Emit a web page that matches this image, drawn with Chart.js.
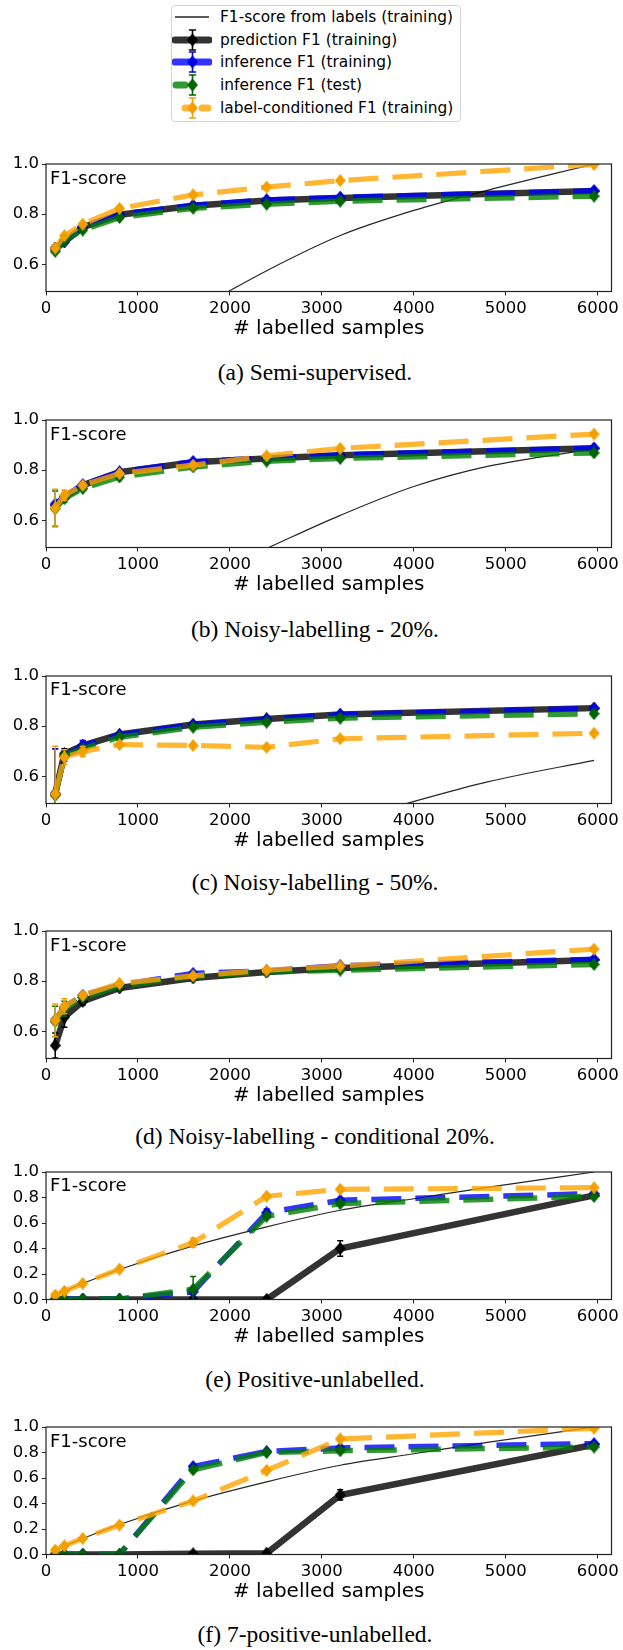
<!DOCTYPE html>
<html>
<head>
<meta charset="utf-8">
<script src="https://cdn.jsdelivr.net/npm/chart.js@4.4.0/dist/chart.umd.min.js"></script>
<style>
  body { margin:0; background:#fff; width:623px; height:1650px; position:relative; overflow:hidden; font-family:"DejaVu Sans", sans-serif; }
  canvas.panel { position:absolute; left:0; }
  .caption { position:absolute; left:0; width:630px; text-align:center; font-family:"Liberation Serif", "Times New Roman", serif; font-size:23.5px; line-height:1; color:#000; white-space:nowrap; }
  .ylab { position:absolute; left:50px; font-size:18px; line-height:1; color:#000; }
  #legendBox { position:absolute; left:171px; top:5px; width:290px; height:117px; border:1px solid #d4d4d4; border-radius:4px; box-sizing:border-box; background:#fff; }
  .lrow { position:absolute; left:220px; height:22px; font-size:15.4px; line-height:22px; white-space:nowrap; color:#000; }
  .lhandle { position:absolute; left:172px; }
</style>
</head>
<body>
<div id="legendBox"></div>

<script>
// x positions shared by every panel
var sampleCounts = [100, 200, 400, 800, 1600, 2400, 3200, 5960];
var xMax = 6150;
var xTickValues = [0, 1000, 2000, 3000, 4000, 5000, 6000];
var yTicksHigh = [0.6, 0.8, 1.0];
var yTicksFull = [0.0, 0.2, 0.4, 0.6, 0.8, 1.0];
var seriesNames = ['F1-score from labels (training)', 'prediction F1 (training)', 'inference F1 (training)', 'inference F1 (test)', 'label-conditioned F1 (training)'];
var panelCaptions = ['(a) Semi-supervised.', '(b) Noisy-labelling - 20%.', '(c) Noisy-labelling - 50%.', '(d) Noisy-labelling - conditional 20%.', '(e) Positive-unlabelled.', '(f) 7-positive-unlabelled.'];
var noErr = [0, 0, 0, 0, 0, 0, 0, 0];

// (a) semi-supervised
var semiPred      = [0.662, 0.690, 0.748, 0.798, 0.834, 0.855, 0.865, 0.892];
var semiInfTrain  = [0.665, 0.690, 0.750, 0.800, 0.835, 0.857, 0.867, 0.893];
var semiInfTest   = [0.652, 0.695, 0.737, 0.787, 0.824, 0.840, 0.852, 0.872];
var semiCond      = [0.665, 0.714, 0.760, 0.823, 0.877, 0.908, 0.934, 0.998];
var semiLabelX    = [1900, 2400, 3200, 4000, 4800, 5960];
var semiLabelF1   = [0.475, 0.575, 0.715, 0.815, 0.895, 1.0];

// (b) noisy 20%
var noisy20Pred     = [0.660, 0.693, 0.740, 0.792, 0.832, 0.847, 0.860, 0.887];
var noisy20InfTrain = [0.665, 0.693, 0.742, 0.793, 0.834, 0.848, 0.861, 0.888];
var noisy20InfTest  = [0.647, 0.687, 0.727, 0.773, 0.813, 0.836, 0.847, 0.869];
var noisy20Cond     = [0.649, 0.700, 0.740, 0.787, 0.820, 0.857, 0.887, 0.944];
var noisy20CondErr  = [0.075, 0.020, 0.010, 0, 0, 0, 0, 0];
var noisy20TestErr  = [0.070, 0.015, 0, 0, 0, 0, 0, 0];
var noisy20LabelX   = [2380, 3200, 4000, 4800, 5960];
var noisy20LabelF1  = [0.485, 0.620, 0.735, 0.815, 0.885];

// (c) noisy 50%
var noisy50Pred     = [0.530, 0.690, 0.723, 0.767, 0.807, 0.829, 0.847, 0.872];
var noisy50InfTrain = [0.530, 0.680, 0.722, 0.765, 0.806, 0.828, 0.846, 0.871];
var noisy50InfTest  = [0.525, 0.683, 0.710, 0.756, 0.796, 0.816, 0.832, 0.850];
var noisy50Cond     = [0.530, 0.676, 0.699, 0.727, 0.723, 0.716, 0.750, 0.772];
var noisy50PredErr  = [0.180, 0.020, 0.020, 0, 0, 0, 0, 0];
var noisy50TrainErr = [0.180, 0.020, 0.020, 0, 0, 0, 0, 0];
var noisy50CondErr  = [0.190, 0.030, 0.020, 0, 0, 0, 0, 0];
var noisy50LabelX   = [3900, 4800, 5960];
var noisy50LabelF1  = [0.490, 0.578, 0.664];

// (d) noisy conditional 20%
var condPred      = [0.544, 0.657, 0.720, 0.773, 0.813, 0.837, 0.853, 0.884];
var condInfTrain  = [0.645, 0.697, 0.744, 0.784, 0.831, 0.841, 0.862, 0.887];
var condInfTest   = [0.640, 0.690, 0.735, 0.780, 0.820, 0.837, 0.844, 0.867];
var condCond      = [0.644, 0.700, 0.744, 0.791, 0.821, 0.844, 0.860, 0.928];
var condPredErr   = [0.050, 0.040, 0.015, 0, 0, 0, 0, 0];
var condTestErr   = [0.060, 0.030, 0, 0, 0, 0, 0, 0];
var condCondErr   = [0.065, 0.030, 0, 0, 0, 0, 0, 0];

// (e) positive-unlabelled
var puPred      = [0, 0, 0, 0, 0, 0, 0.400, 0.817];
var puInfTrain  = [0, 0.003, 0.003, 0.003, 0.060, 0.680, 0.778, 0.830];
var puInfTest   = [0, 0, 0.003, 0.003, 0.080, 0.653, 0.752, 0.810];
var puCond      = [0.035, 0.065, 0.125, 0.238, 0.446, 0.810, 0.864, 0.877];
var puPredErr   = [0, 0, 0, 0, 0, 0, 0.060, 0];
var puTrainErr  = [0, 0, 0, 0, 0, 0.030, 0, 0];
var puTestErr   = [0, 0, 0, 0, 0.100, 0, 0, 0];
var puCondErr   = [0, 0, 0, 0, 0.035, 0, 0, 0];
var puLabelX    = [100, 200, 400, 800, 1600, 2400, 3200, 4000, 4800, 5960];
var puLabelF1   = [0.033, 0.065, 0.125, 0.235, 0.420, 0.570, 0.700, 0.790, 0.880, 1.0];

// (f) 7-positive-unlabelled
var pu7Pred      = [0, 0, 0, 0, 0.005, 0.010, 0.467, 0.861];
var pu7InfTrain  = [0, 0, 0, 0, 0.690, 0.808, 0.835, 0.869];
var pu7InfTest   = [0, 0, 0, 0.003, 0.664, 0.800, 0.814, 0.843];
var pu7Cond      = [0.034, 0.068, 0.126, 0.231, 0.420, 0.659, 0.906, 0.990];
var pu7PredErr   = [0, 0, 0, 0, 0, 0, 0.040, 0];

var lineColors = ['rgba(0,0,0,0.85)', 'rgba(0,0,0,0.8)', 'rgba(0,0,255,0.8)', 'rgba(0,128,0,0.8)', 'rgba(255,165,0,0.8)'];
var markColors = ['#000', '#000', '#0000e6', '#006400', '#f2a000'];

Chart.defaults.font.family = 'DejaVu Sans';
Chart.defaults.color = '#000';

function diamond(color){
  var c = document.createElement('canvas');
  c.width = 11; c.height = 13;
  var g = c.getContext('2d');
  g.fillStyle = color;
  g.beginPath();
  g.moveTo(5.5, 0); g.lineTo(11, 6.5); g.lineTo(5.5, 13); g.lineTo(0, 6.5);
  g.closePath();
  g.fill();
  return c;
}

var errorBarPlugin = {
  id: 'errorBars',
  afterDatasetDraw: function(chart, args){
    var ds = chart.data.datasets[args.index];
    if (!ds.errors) return;
    var ctx = chart.ctx, area = chart.chartArea, ys = chart.scales.y;
    ctx.save();
    ctx.beginPath();
    ctx.rect(area.left, area.top, area.right - area.left, area.bottom - area.top);
    ctx.clip();
    ctx.strokeStyle = ds.errorColor;
    ctx.lineWidth = 1.5;
    args.meta.data.forEach(function(pt, i){
      var e = ds.errors[i];
      if (!e) return;
      var v = ds.data[i].y;
      var y1 = ys.getPixelForValue(v - e), y2 = ys.getPixelForValue(v + e);
      ctx.beginPath();
      ctx.moveTo(pt.x, y1); ctx.lineTo(pt.x, y2);
      ctx.moveTo(pt.x - 3, y1); ctx.lineTo(pt.x + 3, y1);
      ctx.moveTo(pt.x - 3, y2); ctx.lineTo(pt.x + 3, y2);
      ctx.stroke();
    });
    ctx.restore();
  }
};

var framePlugin = {
  id: 'frame',
  afterDatasetsDraw: function(chart){
    var a = chart.chartArea, ctx = chart.ctx;
    ctx.save();
    ctx.strokeStyle = '#222';
    ctx.lineWidth = 1.2;
    ctx.strokeRect(a.left, a.top, a.right - a.left, a.bottom - a.top);
    ctx.restore();
  }
};

function points(xs, ys){
  return xs.map(function(x, i){ return {x: x, y: ys[i]}; });
}

var padTop = 14, plotH = 127.5, axisH = 49.5;

function renderPanel(idx, chartTop, yMin, yTicks, vals, errs, labelX, labelF1){
  var canvas = document.createElement('canvas');
  canvas.className = 'panel';
  canvas.width = 623;
  canvas.height = padTop + plotH + axisH;
  canvas.style.top = (chartTop - padTop) + 'px';
  document.body.appendChild(canvas);

  var datasets = [];
  if (labelX) {
    datasets.push({
      label: seriesNames[0], data: points(labelX, labelF1), order: 4,
      borderColor: lineColors[0], borderWidth: 1.2, pointRadius: 0,
      cubicInterpolationMode: 'monotone', clip: 0
    });
  }
  var widths = [6.5, 5.5, 5.5, 5.2];
  var dashes = [[], [30, 14], [30, 14], [30, 14]];
  for (var s = 0; s < 4; s++) {
    datasets.push({
      label: seriesNames[s + 1], data: points(sampleCounts, vals[s]), order: 3 - s,
      borderColor: lineColors[s + 1], borderWidth: widths[s], borderDash: dashes[s],
      pointStyle: diamond(markColors[s + 1]), pointRadius: 5, tension: 0, clip: 0,
      errors: errs[s], errorColor: markColors[s + 1]
    });
  }

  new Chart(canvas, {
    type: 'line',
    data: { datasets: datasets },
    options: {
      responsive: false,
      animation: false,
      layout: { padding: { top: padTop, right: 9, left: 0, bottom: 0 } },
      plugins: { legend: { display: false }, tooltip: { enabled: false } },
      scales: {
        x: {
          type: 'linear', min: 0, max: xMax,
          afterBuildTicks: function(sc){ sc.ticks = xTickValues.map(function(v){ return {value: v}; }); },
          ticks: { autoSkip: false, maxRotation: 0, padding: 3, font: { size: 16.5 }, color: '#000',
                   callback: function(v){ return String(v); } },
          grid: { drawOnChartArea: false, tickLength: 4, color: '#222' },
          border: { display: false },
          title: { display: true, text: '# labelled samples', font: { size: 20, lineHeight: 1.2 }, color: '#000', padding: 0 },
          afterFit: function(sc){ sc.height = axisH; sc.paddingLeft = 0; sc.paddingRight = 0; }
        },
        y: {
          min: yMin, max: 1.0,
          afterBuildTicks: function(sc){ sc.ticks = yTicks.map(function(v){ return {value: v}; }); },
          ticks: { autoSkip: false, padding: 3, font: { size: 16.5 }, color: '#000',
                   callback: function(v){ return v.toFixed(1); } },
          grid: { drawOnChartArea: false, tickLength: 4, color: '#222' },
          border: { display: false },
          afterFit: function(sc){ sc.width = 46; sc.paddingTop = 0; sc.paddingBottom = 0; }
        }
      }
    },
    plugins: [errorBarPlugin, framePlugin]
  });

  var lab = document.createElement('div');
  lab.className = 'ylab';
  lab.textContent = 'F1-score';
  lab.style.top = (chartTop + 4.6) + 'px';
  document.body.appendChild(lab);
}

var captionY = [375, 631.7, 885, 1138.3, 1381.7, 1636.7];
panelCaptions.forEach(function(t, i){
  var d = document.createElement('div');
  d.className = 'caption';
  d.textContent = t;
  d.style.top = (captionY[i] - 13.7) + 'px';
  document.body.appendChild(d);
});

renderPanel(0, 164, 0.492, yTicksHigh, [semiPred, semiInfTrain, semiInfTest, semiCond], [noErr, noErr, noErr, noErr], semiLabelX, semiLabelF1);
renderPanel(1, 420, 0.492, yTicksHigh, [noisy20Pred, noisy20InfTrain, noisy20InfTest, noisy20Cond], [noErr, noErr, noisy20TestErr, noisy20CondErr], noisy20LabelX, noisy20LabelF1);
renderPanel(2, 675.7, 0.492, yTicksHigh, [noisy50Pred, noisy50InfTrain, noisy50InfTest, noisy50Cond], [noisy50PredErr, noisy50TrainErr, noErr, noisy50CondErr], noisy50LabelX, noisy50LabelF1);
renderPanel(3, 931, 0.492, yTicksHigh, [condPred, condInfTrain, condInfTest, condCond], [condPredErr, noErr, condTestErr, condCondErr], null, null);
renderPanel(4, 1171.7, 0, yTicksFull, [puPred, puInfTrain, puInfTest, puCond], [puPredErr, puTrainErr, puTestErr, puCondErr], puLabelX, puLabelF1);
renderPanel(5, 1427.3, 0, yTicksFull, [pu7Pred, pu7InfTrain, pu7InfTest, pu7Cond], [pu7PredErr, noErr, noErr, noErr], puLabelX, puLabelF1);

// legend rows
var rowY = [17.3, 40, 62.3, 85, 107.7];
var handleSegs = [[[3, 37]], [[3, 37]], [[3, 37]], [[4, 13]], [[13, 17], [30, 36]]];
var handleWidths = [1.5, 7, 7, 7, 7];
seriesNames.forEach(function(name, i){
  var row = document.createElement('div');
  row.className = 'lrow';
  row.style.top = (rowY[i] - 11) + 'px';
  row.textContent = name;
  document.body.appendChild(row);

  var c = document.createElement('canvas');
  c.className = 'lhandle';
  c.width = 40; c.height = 22;
  c.style.top = (rowY[i] - 11) + 'px';
  document.body.appendChild(c);
  var g = c.getContext('2d');
  g.strokeStyle = lineColors[i];
  g.lineWidth = handleWidths[i];
  g.lineCap = i == 0 ? 'butt' : 'round';
  handleSegs[i].forEach(function(sg){
    g.beginPath(); g.moveTo(sg[0], 11); g.lineTo(sg[1], 11); g.stroke();
  });
  if (i > 0) {
    g.strokeStyle = markColors[i];
    g.lineWidth = 1.6;
    g.beginPath();
    g.moveTo(20.5, 1); g.lineTo(20.5, 21);
    g.moveTo(17.5, 1); g.lineTo(23.5, 1);
    g.moveTo(17.5, 21); g.lineTo(23.5, 21);
    g.stroke();
    g.drawImage(diamond(markColors[i]), 15, 4.5);
  }
});
</script>
</body>
</html>
